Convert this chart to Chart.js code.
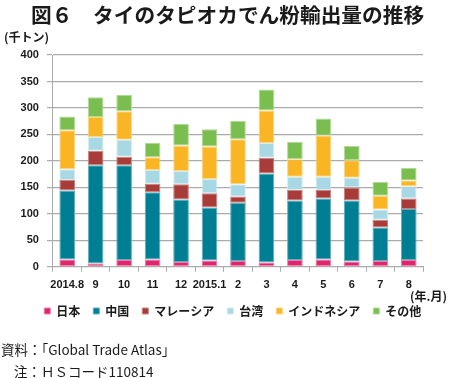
<!DOCTYPE html>
<html lang="ja">
<head>
<meta charset="utf-8">
<script src="https://cdn.jsdelivr.net/npm/chart.js@4.4.1/dist/chart.umd.min.js"></script>
<style>
  html, body { margin: 0; padding: 0; background: #fff; }
  #wrap { position: relative; width: 450px; height: 378px; overflow: hidden; }
  #c { position: absolute; left: 0; top: 0; }
  .t { position: absolute; white-space: nowrap; color: #1a1a1a; font-family: "Noto Sans CJK JP", "Noto Sans", sans-serif; line-height: 1; }
</style>
</head>
<body>
<div id="wrap">
  <canvas id="c" width="450" height="378"></canvas>
  <div class="t" id="title" style="left:31px; top:4px; font-size:20.7px; font-weight:700;">図６　タイのタピオカでん粉輸出量の推移</div>
  <div class="t" style="left:4px; top:31px; font-size:12px; font-weight:700;">(千トン)</div>
  <div class="t" style="left:410px; top:290px; font-size:12px; font-weight:700;">(年.月)</div>
  <div class="t" style="left:1px; top:343px; font-size:13.5px;">資料：「Global Trade Atlas」</div>
  <div class="t" style="left:14px; top:365px; font-size:13.5px;">注：ＨＳコード110814</div>
</div>
<script>
const categories = ['2014.8', '9', '10', '11', '12', '2015.1', '2', '3', '4', '5', '6', '7', '8'];
const seriesNames = ['日本', '中国', 'マレーシア', '台湾', 'インドネシア', 'その他'];
const japan     = [14,   6,  13,  14,   9,  12,  11,   8,  13,  14,  10,  11,  13];
const china     = [130, 186, 179, 127, 118, 100, 110, 168, 112, 115, 115,  63,  96];
const malaysia  = [20,  27,  16,  16,  29,  27,  12,  30,  20,  16,  25,  15,  20];
const taiwan    = [20,  26,  32,  26,  25,  27,  23,  28,  25,  25,  18,  19,  23];
const indonesia = [74,  38,  54,  24,  48,  61,  85,  61,  33,  78,  33,  26,  11];
const other     = [26,  37,  31,  27,  41,  33,  35,  40,  33,  32,  27,  26,  24];
const yTicks = [0, 50, 100, 150, 200, 250, 300, 350, 400];

const colors  = ['#E0246E', '#007E94', '#A83C38', '#A7D8E3', '#F9B524', '#79BE4E'];
const borders = ['#EE7FA8', '#5FB0C0', '#C98480', '#D3EDF3', '#FCD681', '#B2DB97'];
const values = [japan, china, malaysia, taiwan, indonesia, other];

const gridColor = '#ABABAB';
const tickFont = { family: '"Liberation Sans", Arial, sans-serif', size: 11, weight: 'bold' };

// move the legend box so that it sits where the reference has it
const legendShift = {
  id: 'legendShift',
  afterLayout(chart) {
    const lg = chart.legend;
    if (lg) { lg.left += 15; lg.right += 15; lg.top -= 7; lg.bottom -= 7; }
  }
};

new Chart(document.getElementById('c'), {
  type: 'bar',
  data: {
    labels: categories,
    datasets: values.map((v, i) => ({
      label: seriesNames[i],
      data: v,
      backgroundColor: colors[i],
      borderColor: borders[i],
      borderWidth: 1,
      borderSkipped: false,
      categoryPercentage: 1,
      barPercentage: 0.55
    }))
  },
  plugins: [legendShift],
  options: {
    responsive: false,
    animation: false,
    devicePixelRatio: 1,
    layout: { padding: { left: 12.6, right: 27, top: 55, bottom: 44 } },
    plugins: {
      title: { display: false },
      tooltip: { enabled: false },
      legend: {
        position: 'bottom',
        align: 'center',
        labels: {
          boxWidth: 6,
          boxHeight: 6,
          padding: 13,
          color: '#1a1a1a',
          font: { family: '"Noto Sans CJK JP", sans-serif', size: 12, weight: 'bold' }
        }
      }
    },
    scales: {
      x: {
        stacked: true,
        offset: true,
        grid: { display: true, drawOnChartArea: false, drawTicks: true, tickLength: 5, offset: true, color: gridColor, lineWidth: 1 },
        border: { display: true, color: gridColor, width: 1 },
        ticks: { color: '#1a1a1a', font: tickFont, padding: 7, maxRotation: 0, autoSkip: false }
      },
      y: {
        stacked: true,
        min: 0,
        max: 400,
        afterBuildTicks: s => { s.ticks = yTicks.map(v => ({ value: v })); },
        grid: { color: gridColor, lineWidth: 1.2, tickLength: 6, drawTicks: true },
        border: { display: true, color: gridColor, width: 1 },
        ticks: { color: '#1a1a1a', font: tickFont, padding: 8 }
      }
    }
  }
});
</script>
</body>
</html>
